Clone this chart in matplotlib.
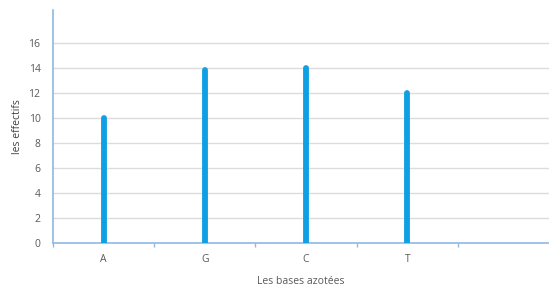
import matplotlib.pyplot as plt

# données
bases = ["A", "G", "C", "T"]
effectifs = [10, 13.8, 14, 12]
yticks = [0, 2, 4, 6, 8, 10, 12, 14, 16]

plt.rcParams["font.family"] = ["Open Sans", "DejaVu Sans"]

fig = plt.figure(figsize=(5.49, 2.87), dpi=100)
ax = fig.add_axes([53 / 549, 44 / 287, 496 / 549, 233 / 287])

x = list(range(len(bases)))
ax.vlines(x, 0, effectifs, color="#0fa0e4", linewidth=4.2, capstyle="round", zorder=3)

ax.set_xlim(-0.5, 4.4)
ax.set_ylim(0, 18.6)
ax.set_yticks(yticks)
ax.set_yticklabels([str(v) for v in yticks])
ax.set_xticks(x)
ax.set_xticklabels(bases)
ax.set_xticks([-0.5, 0.5, 1.5, 2.5, 3.5], minor=True)

ax.tick_params(axis="y", length=0, pad=9, labelsize=7.5, labelcolor="#595959")
ax.tick_params(axis="x", which="major", length=0, pad=8, labelsize=7.5, labelcolor="#595959")
ax.tick_params(axis="x", which="minor", length=3, color="#8fb8e3", width=1)

for v in yticks[1:]:
    ax.axhline(v, color="#dcdcdc", linewidth=1, zorder=1)

for s in ["top", "right"]:
    ax.spines[s].set_visible(False)
for s in ["left", "bottom"]:
    ax.spines[s].set_color("#8fb8e3")
    ax.spines[s].set_linewidth(1.2)

ax.set_xlabel("Les bases azotées", fontsize=7.5, color="#595959", labelpad=8)
ax.set_ylabel("les effectifs", fontsize=7.5, color="#404040", labelpad=4)

fig.savefig("out.png", dpi=100)
